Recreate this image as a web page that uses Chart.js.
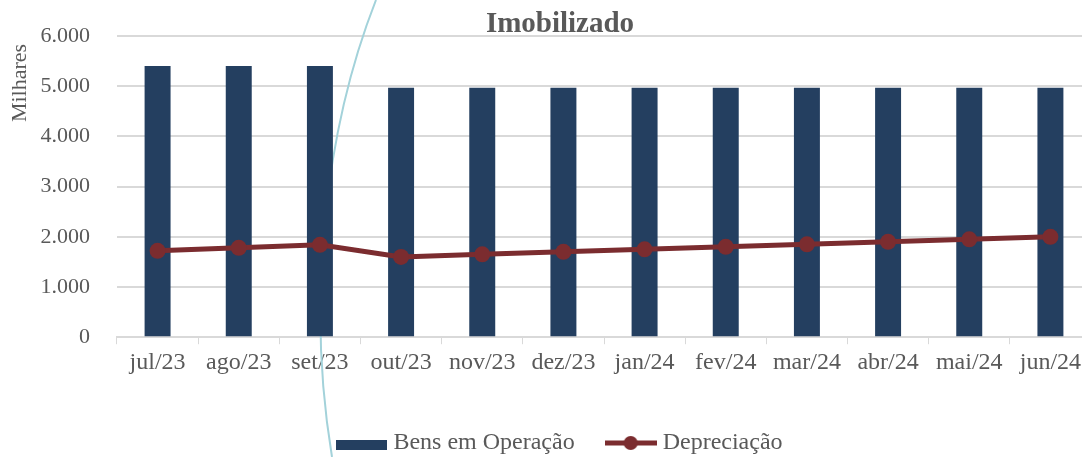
<!DOCTYPE html>
<html>
<head>
<meta charset="utf-8">
<script src="https://cdn.jsdelivr.net/npm/chart.js@4.4.0/dist/chart.umd.min.js"></script>
<style>
    html, body { margin: 0; padding: 0; background: #fff; overflow: hidden; }
    #wrap { width: 1122px; height: 457px; }
</style>
</head>
<body>
<div id="wrap"><canvas id="imobChart" width="1122" height="457"></canvas></div>
<script>
// Data (valores em milhares)
const months = ['jul/23', 'ago/23', 'set/23', 'out/23', 'nov/23', 'dez/23',
                'jan/24', 'fev/24', 'mar/24', 'abr/24', 'mai/24', 'jun/24'];
const bensEmOperacao = [5400, 5400, 5400, 4970, 4970, 4970, 4970, 4970, 4970, 4970, 4970, 4970];
const depreciacao = [1720, 1780, 1840, 1600, 1650, 1700, 1750, 1800, 1850, 1900, 1950, 2000];
const yTicks = [0, 1000, 2000, 3000, 4000, 5000, 6000];

const BAR_COLOR = '#243F60';
const LINE_COLOR = '#7B2C2F';
const TEXT_COLOR = '#595959';
const GRID_COLOR = '#D9D9D9';
const FONT = '"Liberation Serif", "DejaVu Serif", serif';

function fmt(v) {
    return String(v).replace(/\B(?=(\d{3})+(?!\d))/g, '.');
}

// legend icons
function barIcon() {
    const c = document.createElement('canvas');
    c.width = 51; c.height = 24;
    const g = c.getContext('2d');
    g.fillStyle = BAR_COLOR;
    g.fillRect(0, 9, 51, 10);
    return c;
}
function lineIcon() {
    const c = document.createElement('canvas');
    c.width = 52; c.height = 24;
    const g = c.getContext('2d');
    g.strokeStyle = LINE_COLOR;
    g.lineWidth = 5;
    g.beginPath(); g.moveTo(0, 12); g.lineTo(52, 12); g.stroke();
    g.fillStyle = LINE_COLOR;
    g.beginPath(); g.arc(26, 12, 7, 0, Math.PI * 2); g.fill();
    return c;
}

// title, axis label and the decorative curve from the slide
const decor = {
    id: 'decor',
    beforeDatasetsDraw(chart) {
        const ctx = chart.ctx;
        ctx.save();
        ctx.strokeStyle = '#A3D2DA';
        ctx.lineWidth = 2;
        ctx.beginPath();
        ctx.moveTo(376, 0);
        ctx.bezierCurveTo(325, 130, 306, 300, 332, 457);
        ctx.stroke();
        ctx.restore();
    },
    afterDraw(chart) {
        const ctx = chart.ctx;
        ctx.save();
        ctx.fillStyle = TEXT_COLOR;
        ctx.textAlign = 'center';
        ctx.textBaseline = 'middle';
        ctx.font = 'bold 29px ' + FONT;
        ctx.fillText('Imobilizado', 560, 25);
        ctx.translate(20, 83);
        ctx.rotate(-Math.PI / 2);
        ctx.font = '22px ' + FONT;
        ctx.fillText('Milhares', 0, 0);
        ctx.restore();
    }
};

const ctx = document.getElementById('imobChart').getContext('2d');
const chart = new Chart(ctx, {
    data: {
        labels: months,
        datasets: [{
            type: 'line',
            label: 'Depreciação',
            data: depreciacao,
            borderColor: LINE_COLOR,
            backgroundColor: LINE_COLOR,
            borderWidth: 5,
            pointRadius: 8,
            pointHoverRadius: 8,
            pointBackgroundColor: LINE_COLOR,
            pointBorderWidth: 0,
            tension: 0,
            order: 1
        }, {
            type: 'bar',
            label: 'Bens em Operação',
            data: bensEmOperacao,
            backgroundColor: BAR_COLOR,
            barPercentage: 0.32,
            categoryPercentage: 1,
            order: 2
        }]
    },
    options: {
        responsive: false,
        animation: false,
        layout: { autoPadding: false, padding: { left: 33, right: 31, top: 36, bottom: -8 } },
        plugins: {
            title: { display: false },
            tooltip: { enabled: false },
            legend: {
                position: 'bottom',
                labels: {
                    usePointStyle: true,
                    pointStyleWidth: 40,
                    padding: 36,
                    color: TEXT_COLOR,
                    font: { family: FONT, size: 24 },
                    generateLabels(chart) {
                        return [
                            { text: 'Bens em Operação', pointStyle: barIcon(), fontColor: TEXT_COLOR, lineWidth: 0, datasetIndex: 1 },
                            { text: 'Depreciação', pointStyle: lineIcon(), fontColor: TEXT_COLOR, lineWidth: 0, datasetIndex: 0 }
                        ];
                    }
                }
            }
        },
        scales: {
            x: {
                grid: { drawOnChartArea: false, color: GRID_COLOR, tickLength: 7, offset: true },
                border: { color: GRID_COLOR, width: 2 },
                ticks: { color: TEXT_COLOR, font: { family: FONT, size: 24 }, padding: 4, maxRotation: 0 },
                afterFit(scale) { scale.height = scale.height + 14; }
            },
            y: {
                min: 0,
                max: 6000,
                afterBuildTicks(scale) { scale.ticks = yTicks.map(v => ({ value: v })); },
                afterFit(scale) {
                    scale.width = 84;
                    scale.paddingTop = 0;
                    scale.paddingBottom = 0;
                },
                grid: { color: GRID_COLOR, lineWidth: 2, drawTicks: false },
                border: { display: false },
                ticks: {
                    color: TEXT_COLOR,
                    font: { family: FONT, size: 22 },
                    padding: 27,
                    callback: v => fmt(v)
                }
            }
        }
    },
    plugins: [decor]
});
</script>
</body>
</html>
